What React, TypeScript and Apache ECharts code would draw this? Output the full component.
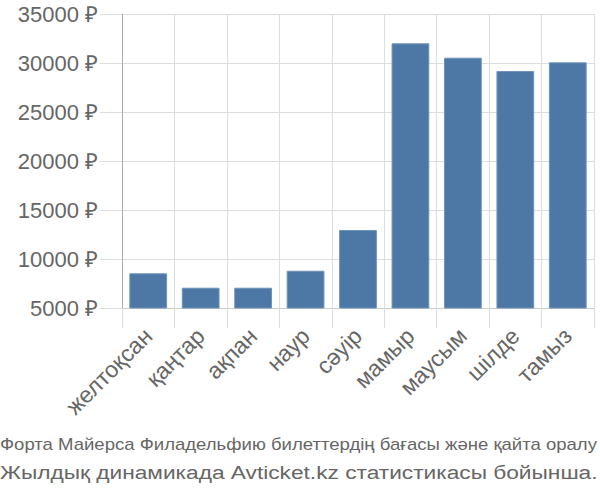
import React, { useEffect, useRef } from "react";
import * as echarts from "echarts";

const categories = ["желтоқсан", "қаңтар", "ақпан", "наур", "сәуір", "мамыр", "маусым", "шілде", "тамыз"];
const prices = [8540, 7070, 7070, 8800, 12960, 32010, 30540, 29180, 30070];
const yMin = 5000;
const yMax = 35000;
const yStep = 5000;
const currency = "₽";
const captionLine1 = "Форта Майерса Филадельфию билеттердің бағасы және қайта оралу";
const captionLine2 = "Жылдық динамикада Avticket.kz статистикасы бойынша.";

function measure(text: string, font: string): number {
  const c = document.createElement("canvas");
  const ctx = c.getContext("2d");
  if (!ctx) return 1;
  ctx.font = font;
  return ctx.measureText(text).width || 1;
}

export default function App() {
  const ref = useRef<HTMLDivElement>(null);
  useEffect(() => {
    if (!ref.current) return;
    const chart = echarts.init(ref.current, undefined, { renderer: "svg" });
    const f1 = '17px "Liberation Sans"';
    const f2 = '19px "Liberation Sans"';
    const w1 = measure(captionLine1, f1);
    const w2 = measure(captionLine2, f2);
    chart.setOption({
      animation: false,
      grid: { left: 122, right: 6, top: 14, bottom: 192, containLabel: false },
      xAxis: {
        type: "category",
        data: categories,
        boundaryGap: true,
        axisLine: { show: true, lineStyle: { color: "#cccccc", width: 1 } },
        axisTick: { show: true, length: 20, lineStyle: { color: "#dddddd" } },
        splitLine: { show: true, lineStyle: { color: "#dddddd", width: 1 } },
        axisLabel: {
          rotate: 45,
          margin: 24,
          interval: 0,
          color: "#666666",
          fontSize: 23,
          fontFamily: "Liberation Sans",
        },
      },
      yAxis: {
        type: "value",
        min: yMin,
        max: yMax,
        interval: yStep,
        axisLine: { show: true, lineStyle: { color: "#aaaaaa", width: 1 } },
        axisTick: { show: true, length: 22, lineStyle: { color: "#dddddd" } },
        splitLine: { show: true, lineStyle: { color: "#dddddd", width: 1 } },
        axisLabel: {
          margin: 24,
          color: "#666666",
          fontSize: 22,
          fontFamily: "Liberation Sans",
          formatter: (v: number) => `${v} ${currency}`,
        },
      },
      series: [
        {
          type: "bar",
          data: prices,
          barCategoryGap: "28%",
          itemStyle: { color: "#4d78a6", borderColor: "#6f93bb", borderWidth: 1 },
        },
      ],
      graphic: [
        {
          type: "line",
          shape: { x1: 122.5, y1: 308, x2: 122.5, y2: 328 },
          style: { stroke: "#aaaaaa", lineWidth: 1 },
        },
        {
          type: "text",
          left: 0,
          top: 436,
          scaleX: 597 / w1,
          style: {
            text: captionLine1,
            font: f1,
            fill: "#666666",
          },
        },
        {
          type: "text",
          left: 0,
          top: 463,
          scaleX: 598 / w2,
          style: {
            text: captionLine2,
            font: f2,
            fill: "#666666",
          },
        },
      ],
    });
    return () => chart.dispose();
  }, []);
  return <div ref={ref} style={{ width: 600, height: 500, position: "absolute", left: 0, top: 0 }} />;
}
